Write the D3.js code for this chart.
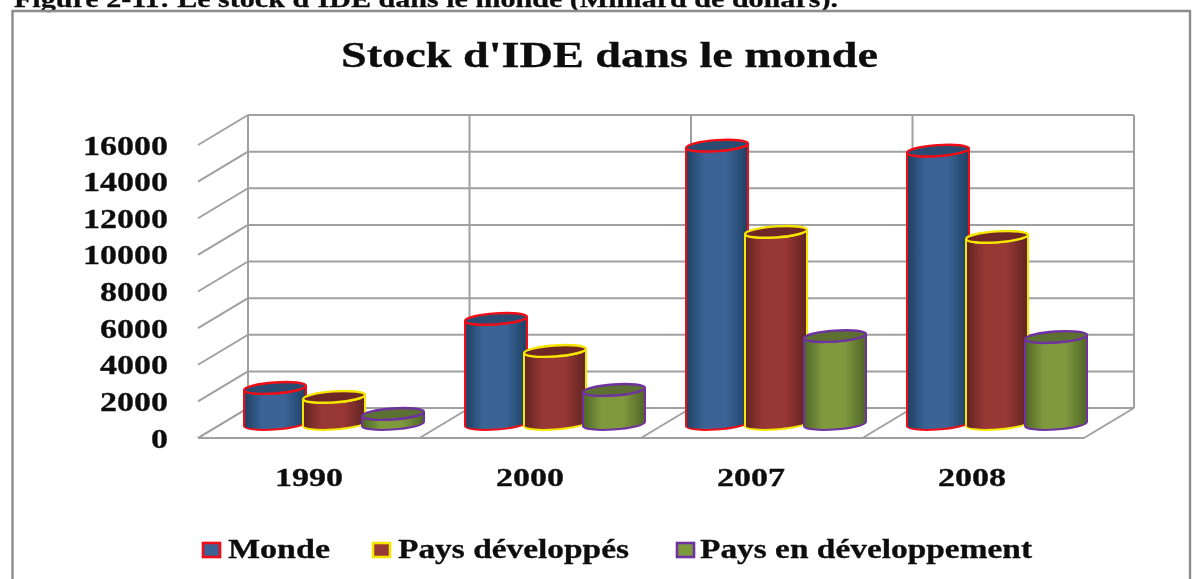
<!DOCTYPE html>
<html><head><meta charset="utf-8">
<style>html,body{margin:0;background:#fff}svg{display:block}text{font-family:"Liberation Serif",serif;font-weight:bold;fill:#0c0c0c;stroke:#0c0c0c;stroke-width:.3}</style>
<script src="https://cdn.jsdelivr.net/npm/d3@7/dist/d3.min.js"></script></head>
<body><svg id="c" width="1200" height="579"></svg>
<script>
const categories=["1990","2000","2007","2008"];
const seriesNames=["Monde","Pays développés","Pays en développement"];
const monde=[1970,5740,15200,14930];
const developpes=[1480,3990,10490,10220];
const enDeveloppement=[550,1860,4800,4750];
const yTicks=[0,2000,4000,6000,8000,10000,12000,14000,16000];
const bodyColors=["#3A6496","#983735","#7F9A3E"];
const darkColors=["#1F3F62","#5F2421","#4F6527"];
const lidColors=["#2C4C72","#6E2825","#5B7030"];
const strokes=["#F01018","#F5E600","#7030A0"];
const values=[monde,developpes,enDeveloppement];

const svg=d3.select("#c");
const defs=svg.append("defs");
defs.append("filter").attr("id","soft").attr("x","-5%").attr("y","-5%").attr("width","110%").attr("height","110%")
  .append("feGaussianBlur").attr("stdDeviation",0.6);
bodyColors.forEach((c,i)=>{
  const g=defs.append("linearGradient").attr("id","cyl"+i);
  [[0,darkColors[i]],[.3,c],[.65,c],[1,darkColors[i]]].forEach(([o,col])=>g.append("stop").attr("offset",o).attr("stop-color",col));
});
const root=svg.append("g").attr("filter","url(#soft)");
const stretch=(t,len)=>t.attr("textLength",len).attr("lengthAdjust","spacingAndGlyphs");

// caption & frame
stretch(root.append("text").attr("x",14).attr("y",7).attr("font-size",24).text("Figure 2-11: Le stock d'IDE dans le monde (Milliard de dollars)."),824);
root.append("path").attr("d","M12.5,579V11H1190V579").attr("fill","none").attr("stroke","#8c8c8c").attr("stroke-width",2.4);
stretch(root.append("text").attr("x",341).attr("y",67).attr("font-size",36).text("Stock d'IDE dans le monde"),537);

// scales
const yBack=d3.scaleLinear().domain([0,16000]).range([408,115]);
const xFront=d3.scaleBand().domain(categories).range([198,1084]);
const depth={x:50,y:-30};
const grid=root.append("g").attr("fill","none").attr("stroke","#a0a0a0").attr("stroke-width",2);
yTicks.forEach(t=>{
  const y=yBack(t);
  grid.append("line").attr("x1",248).attr("x2",1134).attr("y1",y).attr("y2",y);
  grid.append("line").attr("x1",198).attr("y1",y-depth.y).attr("x2",248).attr("y2",y);
});
[...categories.map(c=>xFront(c)),1084].forEach(x=>{
  grid.append("line").attr("x1",x+depth.x).attr("x2",x+depth.x).attr("y1",yBack(16000)).attr("y2",yBack(0));
  grid.append("line").attr("x1",x).attr("y1",yBack(0)-depth.y).attr("x2",x+depth.x).attr("y2",yBack(0));
});
grid.append("line").attr("x1",198).attr("x2",1084).attr("y1",yBack(0)-depth.y).attr("y2",yBack(0)-depth.y);

// y labels
yTicks.forEach(d=>{
  const s=String(d), w=17*s.length;
  stretch(root.append("text").attr("x",168-w).attr("y",yBack(d)-depth.y+9.5).attr("font-size",27).text(s),w);
});

// cylinders
const base=424, rx=31, ry=5.5, tilt=-4;
const pxPerUnit=(yBack(0)-yBack(16000))/16000;
const h=d3.scaleLinear().domain([0,16000]).range([base,base-16000*pxPerUnit]);
const xGroup=d3.scaleBand().domain(categories).range([275,275+4*221]);
const xSeries=d3.scaleLinear().domain([0,2]).range([0,118]);
categories.forEach((c,ci)=>{
  seriesNames.forEach((s,si)=>{
    const cx=xGroup(c)+xSeries(si), top=h(values[si][ci]);
    const g=root.append("g");
    const d=`M${cx-rx},${top+2}L${cx-rx},${base+2}A${rx},${ry} ${tilt} 0 0 ${cx+rx},${base-2}L${cx+rx},${top-2}A${rx},${ry} ${tilt} 0 1 ${cx-rx},${top+2}Z`;
    g.append("path").attr("d",d).attr("fill",`url(#cyl${si})`).attr("stroke",strokes[si]).attr("stroke-width",2);
    g.append("ellipse").attr("cx",cx).attr("cy",top).attr("rx",rx).attr("ry",ry)
      .attr("transform",`rotate(${tilt} ${cx} ${top})`).attr("fill",lidColors[si]).attr("stroke",strokes[si]).attr("stroke-width",2.4);
  });
});

// x labels
categories.forEach(c=>{
  stretch(root.append("text").attr("x",xGroup(c)).attr("y",486).attr("font-size",25).text(c),68);
});

// legend
const legX=[203,373,677], legT=[228,398,700], legW=[102,231,332];
seriesNames.forEach((s,i)=>{
  root.append("rect").attr("x",legX[i]).attr("y",543).attr("width",17).attr("height",14)
    .attr("fill",bodyColors[i]).attr("stroke",strokes[i]).attr("stroke-width",2.6);
  stretch(root.append("text").attr("x",legT[i]).attr("y",558).attr("font-size",27).text(s),legW[i]);
});
</script></body></html>
